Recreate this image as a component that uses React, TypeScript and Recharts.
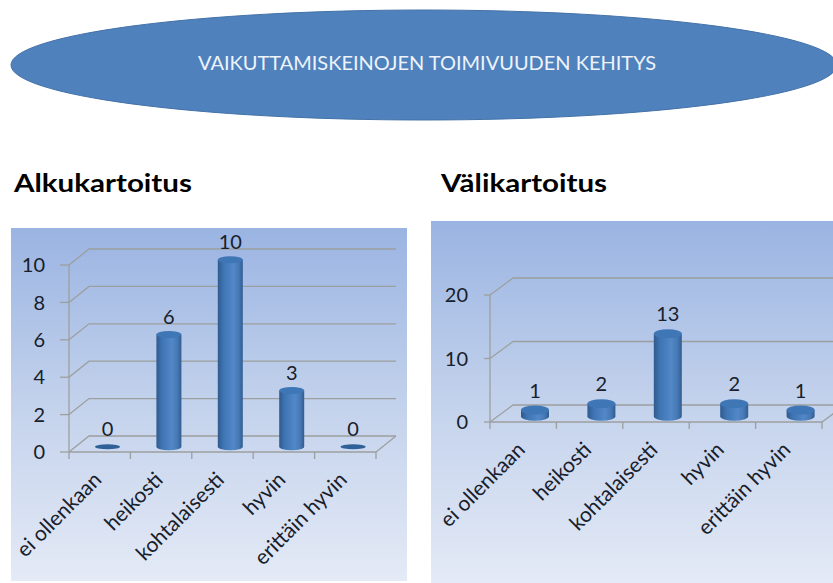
import React from 'react';
import { BarChart, Bar, XAxis, YAxis, CartesianGrid, LabelList } from 'recharts';

const categories = ['ei ollenkaan', 'heikosti', 'kohtalaisesti', 'hyvin', 'erittäin hyvin'];
const alkuValues = [0, 6, 10, 3, 0];
const valiValues = [1, 2, 13, 2, 1];
const alkuTicks = [0, 2, 4, 6, 8, 10];
const valiTicks = [0, 10, 20];

const GRID = '#9c9f9f';
const INK = '#17202b';
const FONT = 'Lato, "Open Sans", sans-serif';

function toRows(values: number[]) {
  return categories.map((name, i) => ({ name, value: values[i] }));
}

function Panel({ id, values, ticks, left, top, width, height, marginTop, marginRight, xHeight, tickSize, tickMargin, yWidth, depth, lift, shift, barSize, capRy, labelGap }: any) {
  const band = (width - yWidth - marginRight) / categories.length;
  const floorY = height - xHeight;

  const gridLine = (p: any) => (
    <g key={p.key ?? p.index}>
      <path
        d={`M${p.x1},${p.y1}L${p.x1 + depth},${p.y1 - lift}L${p.x2 + depth},${p.y1 - lift}`}
        fill="none"
        stroke={GRID}
        strokeWidth={1.3}
      />
      {Math.abs(p.y1 - floorY) < 1 && (
        <line x1={p.x2} y1={p.y1} x2={p.x2 + depth} y2={p.y1 - lift} stroke={GRID} strokeWidth={1.3} />
      )}
    </g>
  );

  const xTick = ({ x, y, payload, index }: any) => (
    <g>
      <line x1={x - band / 2} y1={y - 8} x2={x - band / 2} y2={y - 1} stroke={GRID} strokeWidth={1.3} />
      {index === categories.length - 1 && (
        <line x1={x + band / 2} y1={y - 8} x2={x + band / 2} y2={y - 1} stroke={GRID} strokeWidth={1.3} />
      )}
      <text
        transform={`translate(${x + 3},${y + 21}) rotate(-45)`}
        textAnchor="end"
        fontSize={21}
        fontFamily={FONT}
        fill={INK}
      >
        {payload.value}
      </text>
    </g>
  );

  const cylinder = ({ x, y, width: w, height: h }: any) => {
    const cx = x + w / 2 + shift;
    const base = y + h - lift / 3;
    const topY = y - lift / 3;
    const rx = w / 2;
    if (h < 1) {
      return <ellipse cx={cx} cy={base} rx={rx} ry={capRy - 1} fill="#2f6098" />;
    }
    return (
      <g>
        <path
          d={`M${cx - rx},${topY}L${cx - rx},${base}A${rx},${capRy} 0 0 0 ${cx + rx},${base}L${cx + rx},${topY}Z`}
          fill={`url(#${id}-side)`}
        />
        <ellipse cx={cx} cy={topY} rx={rx} ry={capRy} fill="#3f76b6" />
      </g>
    );
  };

  const valueLabel = ({ x, y, width: w, value }: any) => (
    <text
      x={x + w / 2 + shift}
      y={y - labelGap}
      textAnchor="middle"
      dominantBaseline="central"
      fontSize={20}
      fontFamily={FONT}
      fill={INK}
    >
      {value}
    </text>
  );

  return (
    <div
      style={{
        position: 'absolute',
        left,
        top,
        width,
        height,
        background: 'linear-gradient(180deg, #9ab4e2 0%, #c3d2ec 50%, #e4eaf6 100%)',
      }}
    >
      <BarChart
        width={width}
        height={height}
        data={toRows(values)}
        margin={{ top: marginTop, right: marginRight, bottom: 0, left: 0 }}
      >
        <defs>
          <linearGradient id={`${id}-side`} x1="0" y1="0" x2="1" y2="0">
            <stop offset="0%" stopColor="#2f5a8e" />
            <stop offset="22%" stopColor="#3f74b3" />
            <stop offset="62%" stopColor="#5288c8" />
            <stop offset="85%" stopColor="#4677b2" />
            <stop offset="100%" stopColor="#2f5c92" />
          </linearGradient>
        </defs>
        <CartesianGrid vertical={false} horizontal={gridLine} />
        <XAxis
          dataKey="name"
          interval={0}
          tick={xTick}
          tickLine={false}
          axisLine={{ stroke: GRID, strokeWidth: 1.3 }}
          height={xHeight}
        />
        <YAxis
          width={yWidth}
          domain={[0, ticks[ticks.length - 1]]}
          ticks={ticks}
          interval={0}
          tickSize={tickSize}
          tickMargin={tickMargin}
          tick={{ fontSize: 20, fontFamily: FONT, fill: INK }}
          tickLine={{ stroke: GRID, strokeWidth: 1.3 }}
          axisLine={{ stroke: GRID, strokeWidth: 1.3 }}
        />
        <Bar dataKey="value" barSize={barSize} shape={cylinder} isAnimationActive={false}>
          <LabelList dataKey="value" content={valueLabel} />
        </Bar>
      </BarChart>
    </div>
  );
}

export default function App() {
  return (
    <div style={{ position: 'absolute', left: 0, top: 0, width: 833, height: 583, overflow: 'hidden', background: '#fff' }}>
      <svg width={833} height={210} style={{ position: 'absolute', left: 0, top: 0 }}>
        <ellipse cx={424} cy={65} rx={413} ry={55} fill="#4f81bd" stroke="#4472a8" />
        <text
          x={198}
          y={70}
          textLength={458}
          lengthAdjust="spacingAndGlyphs"
          fontSize={19}
          fontFamily={FONT}
          fill="#eef3fa"
        >
          VAIKUTTAMISKEINOJEN TOIMIVUUDEN KEHITYS
        </text>
        <text x={14} y={192} textLength={178} lengthAdjust="spacingAndGlyphs" fontSize={25} fontWeight={700} fontFamily={FONT} fill="#000">
          Alkukartoitus
        </text>
        <text x={441} y={192} textLength={166} lengthAdjust="spacingAndGlyphs" fontSize={25} fontWeight={700} fontFamily={FONT} fill="#000">
          Välikartoitus
        </text>
      </svg>
      <Panel
        id="alku"
        values={alkuValues}
        ticks={alkuTicks}
        left={11}
        top={228}
        width={396}
        height={353}
        marginTop={37}
        marginRight={31}
        xHeight={129}
        yWidth={58}
        tickSize={9}
        tickMargin={15}
        depth={20}
        lift={16}
        shift={8}
        barSize={25}
        capRy={3.5}
        labelGap={24}
      />
      <Panel
        id="vali"
        values={valiValues}
        ticks={valiTicks}
        left={431}
        top={221}
        width={402}
        height={362}
        marginTop={74}
        marginRight={11}
        xHeight={161}
        yWidth={59}
        tickSize={6}
        tickMargin={16}
        depth={23}
        lift={17}
        shift={12}
        barSize={28}
        capRy={4.5}
        labelGap={26}
      />
    </div>
  );
}
